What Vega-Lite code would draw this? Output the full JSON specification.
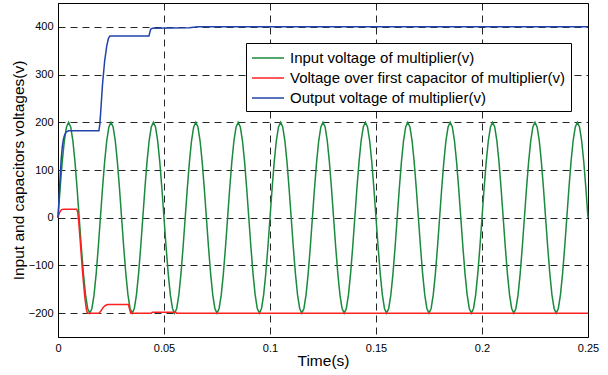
{
"$schema":"https://vega.github.io/schema/vega-lite/v6.json",
"autosize":{"type":"none"},
"width":530,"height":334,
"padding":{"left":58,"top":3,"right":20,"bottom":38},
"background":"white",
"config":{"view":{"stroke":"black","strokeWidth":1},"font":"Liberation Sans",
"axis":{"labelFont":"Liberation Sans","titleFont":"Liberation Sans","labelColor":"black","titleColor":"black","labelFontSize":11,"titleFontSize":15.5,"titleFontWeight":"normal","domainColor":"black","ticks":false,"gridColor":"black","gridDash":[7,5],"gridOpacity":0.85,"gridWidth":1}},
"datasets":{
"green":[
{"t":0,"v":0},{"t":0.001,"v":61.8},{"t":0.002,"v":117.6},{"t":0.003,"v":161.8},{"t":0.004,"v":190.2},{"t":0.005,"v":200},{"t":0.006,"v":190.2},{"t":0.007,"v":161.8},{"t":0.008,"v":117.6},{"t":0.009,"v":61.8},{"t":0.01,"v":0},{"t":0.011,"v":-61.8},{"t":0.012,"v":-117.6},{"t":0.013,"v":-161.8},{"t":0.014,"v":-190.2},{"t":0.015,"v":-200},{"t":0.016,"v":-190.2},{"t":0.017,"v":-161.8},{"t":0.018,"v":-117.6},{"t":0.019,"v":-61.8},
{"t":0.02,"v":0},{"t":0.021,"v":61.8},{"t":0.022,"v":117.6},{"t":0.023,"v":161.8},{"t":0.024,"v":190.2},{"t":0.025,"v":200},{"t":0.026,"v":190.2},{"t":0.027,"v":161.8},{"t":0.028,"v":117.6},{"t":0.029,"v":61.8},{"t":0.03,"v":0},{"t":0.031,"v":-61.8},{"t":0.032,"v":-117.6},{"t":0.033,"v":-161.8},{"t":0.034,"v":-190.2},{"t":0.035,"v":-200},{"t":0.036,"v":-190.2},{"t":0.037,"v":-161.8},{"t":0.038,"v":-117.6},{"t":0.039,"v":-61.8},
{"t":0.04,"v":0},{"t":0.041,"v":61.8},{"t":0.042,"v":117.6},{"t":0.043,"v":161.8},{"t":0.044,"v":190.2},{"t":0.045,"v":200},{"t":0.046,"v":190.2},{"t":0.047,"v":161.8},{"t":0.048,"v":117.6},{"t":0.049,"v":61.8},{"t":0.05,"v":0},{"t":0.051,"v":-61.8},{"t":0.052,"v":-117.6},{"t":0.053,"v":-161.8},{"t":0.054,"v":-190.2},{"t":0.055,"v":-200},{"t":0.056,"v":-190.2},{"t":0.057,"v":-161.8},{"t":0.058,"v":-117.6},{"t":0.059,"v":-61.8},
{"t":0.06,"v":0},{"t":0.061,"v":61.8},{"t":0.062,"v":117.6},{"t":0.063,"v":161.8},{"t":0.064,"v":190.2},{"t":0.065,"v":200},{"t":0.066,"v":190.2},{"t":0.067,"v":161.8},{"t":0.068,"v":117.6},{"t":0.069,"v":61.8},{"t":0.07,"v":0},{"t":0.071,"v":-61.8},{"t":0.072,"v":-117.6},{"t":0.073,"v":-161.8},{"t":0.074,"v":-190.2},{"t":0.075,"v":-200},{"t":0.076,"v":-190.2},{"t":0.077,"v":-161.8},{"t":0.078,"v":-117.6},{"t":0.079,"v":-61.8},
{"t":0.08,"v":0},{"t":0.081,"v":61.8},{"t":0.082,"v":117.6},{"t":0.083,"v":161.8},{"t":0.084,"v":190.2},{"t":0.085,"v":200},{"t":0.086,"v":190.2},{"t":0.087,"v":161.8},{"t":0.088,"v":117.6},{"t":0.089,"v":61.8},{"t":0.09,"v":0},{"t":0.091,"v":-61.8},{"t":0.092,"v":-117.6},{"t":0.093,"v":-161.8},{"t":0.094,"v":-190.2},{"t":0.095,"v":-200},{"t":0.096,"v":-190.2},{"t":0.097,"v":-161.8},{"t":0.098,"v":-117.6},{"t":0.099,"v":-61.8},
{"t":0.1,"v":0},{"t":0.101,"v":61.8},{"t":0.102,"v":117.6},{"t":0.103,"v":161.8},{"t":0.104,"v":190.2},{"t":0.105,"v":200},{"t":0.106,"v":190.2},{"t":0.107,"v":161.8},{"t":0.108,"v":117.6},{"t":0.109,"v":61.8},{"t":0.11,"v":0},{"t":0.111,"v":-61.8},{"t":0.112,"v":-117.6},{"t":0.113,"v":-161.8},{"t":0.114,"v":-190.2},{"t":0.115,"v":-200},{"t":0.116,"v":-190.2},{"t":0.117,"v":-161.8},{"t":0.118,"v":-117.6},{"t":0.119,"v":-61.8},
{"t":0.12,"v":0},{"t":0.121,"v":61.8},{"t":0.122,"v":117.6},{"t":0.123,"v":161.8},{"t":0.124,"v":190.2},{"t":0.125,"v":200},{"t":0.126,"v":190.2},{"t":0.127,"v":161.8},{"t":0.128,"v":117.6},{"t":0.129,"v":61.8},{"t":0.13,"v":0},{"t":0.131,"v":-61.8},{"t":0.132,"v":-117.6},{"t":0.133,"v":-161.8},{"t":0.134,"v":-190.2},{"t":0.135,"v":-200},{"t":0.136,"v":-190.2},{"t":0.137,"v":-161.8},{"t":0.138,"v":-117.6},{"t":0.139,"v":-61.8},
{"t":0.14,"v":0},{"t":0.141,"v":61.8},{"t":0.142,"v":117.6},{"t":0.143,"v":161.8},{"t":0.144,"v":190.2},{"t":0.145,"v":200},{"t":0.146,"v":190.2},{"t":0.147,"v":161.8},{"t":0.148,"v":117.6},{"t":0.149,"v":61.8},{"t":0.15,"v":0},{"t":0.151,"v":-61.8},{"t":0.152,"v":-117.6},{"t":0.153,"v":-161.8},{"t":0.154,"v":-190.2},{"t":0.155,"v":-200},{"t":0.156,"v":-190.2},{"t":0.157,"v":-161.8},{"t":0.158,"v":-117.6},{"t":0.159,"v":-61.8},
{"t":0.16,"v":0},{"t":0.161,"v":61.8},{"t":0.162,"v":117.6},{"t":0.163,"v":161.8},{"t":0.164,"v":190.2},{"t":0.165,"v":200},{"t":0.166,"v":190.2},{"t":0.167,"v":161.8},{"t":0.168,"v":117.6},{"t":0.169,"v":61.8},{"t":0.17,"v":0},{"t":0.171,"v":-61.8},{"t":0.172,"v":-117.6},{"t":0.173,"v":-161.8},{"t":0.174,"v":-190.2},{"t":0.175,"v":-200},{"t":0.176,"v":-190.2},{"t":0.177,"v":-161.8},{"t":0.178,"v":-117.6},{"t":0.179,"v":-61.8},
{"t":0.18,"v":0},{"t":0.181,"v":61.8},{"t":0.182,"v":117.6},{"t":0.183,"v":161.8},{"t":0.184,"v":190.2},{"t":0.185,"v":200},{"t":0.186,"v":190.2},{"t":0.187,"v":161.8},{"t":0.188,"v":117.6},{"t":0.189,"v":61.8},{"t":0.19,"v":0},{"t":0.191,"v":-61.8},{"t":0.192,"v":-117.6},{"t":0.193,"v":-161.8},{"t":0.194,"v":-190.2},{"t":0.195,"v":-200},{"t":0.196,"v":-190.2},{"t":0.197,"v":-161.8},{"t":0.198,"v":-117.6},{"t":0.199,"v":-61.8},
{"t":0.2,"v":0},{"t":0.201,"v":61.8},{"t":0.202,"v":117.6},{"t":0.203,"v":161.8},{"t":0.204,"v":190.2},{"t":0.205,"v":200},{"t":0.206,"v":190.2},{"t":0.207,"v":161.8},{"t":0.208,"v":117.6},{"t":0.209,"v":61.8},{"t":0.21,"v":0},{"t":0.211,"v":-61.8},{"t":0.212,"v":-117.6},{"t":0.213,"v":-161.8},{"t":0.214,"v":-190.2},{"t":0.215,"v":-200},{"t":0.216,"v":-190.2},{"t":0.217,"v":-161.8},{"t":0.218,"v":-117.6},{"t":0.219,"v":-61.8},
{"t":0.22,"v":0},{"t":0.221,"v":61.8},{"t":0.222,"v":117.6},{"t":0.223,"v":161.8},{"t":0.224,"v":190.2},{"t":0.225,"v":200},{"t":0.226,"v":190.2},{"t":0.227,"v":161.8},{"t":0.228,"v":117.6},{"t":0.229,"v":61.8},{"t":0.23,"v":0},{"t":0.231,"v":-61.8},{"t":0.232,"v":-117.6},{"t":0.233,"v":-161.8},{"t":0.234,"v":-190.2},{"t":0.235,"v":-200},{"t":0.236,"v":-190.2},{"t":0.237,"v":-161.8},{"t":0.238,"v":-117.6},{"t":0.239,"v":-61.8},
{"t":0.24,"v":0},{"t":0.241,"v":61.8},{"t":0.242,"v":117.6},{"t":0.243,"v":161.8},{"t":0.244,"v":190.2},{"t":0.245,"v":200},{"t":0.246,"v":190.2},{"t":0.247,"v":161.8},{"t":0.248,"v":117.6},{"t":0.249,"v":61.8},{"t":0.25,"v":0}
],
"red":[
{"t":0,"v":0},{"t":0.0005,"v":8},{"t":0.001,"v":13},{"t":0.0015,"v":16},{"t":0.002,"v":17.5},{"t":0.003,"v":18},{"t":0.0088,"v":18},{"t":0.0093,"v":12},{"t":0.0098,"v":-10},{"t":0.0105,"v":-50},{"t":0.0115,"v":-110},{"t":0.0125,"v":-160},{"t":0.0133,"v":-190},{"t":0.0138,"v":-199},{"t":0.0142,"v":-200},{"t":0.0193,"v":-200},{"t":0.0203,"v":-195},{"t":0.0213,"v":-188},{"t":0.0223,"v":-184},{"t":0.0235,"v":-182},{"t":0.0332,"v":-182},{"t":0.0343,"v":-200},{"t":0.044,"v":-200},{"t":0.0445,"v":-198},{"t":0.0555,"v":-198},{"t":0.056,"v":-200},{"t":0.25,"v":-200}
],
"blue":[
{"t":0,"v":0},{"t":0.0005,"v":40},{"t":0.001,"v":85},{"t":0.0015,"v":122},{"t":0.002,"v":148},{"t":0.0025,"v":163},{"t":0.003,"v":172},{"t":0.0035,"v":177},{"t":0.004,"v":180},{"t":0.005,"v":182},{"t":0.0193,"v":182},{"t":0.0197,"v":195},{"t":0.0202,"v":225},{"t":0.021,"v":280},{"t":0.022,"v":328},{"t":0.023,"v":360},{"t":0.0238,"v":376},{"t":0.0245,"v":381},{"t":0.0429,"v":381},{"t":0.0437,"v":395},{"t":0.0445,"v":397},{"t":0.062,"v":398},{"t":0.066,"v":400},{"t":0.25,"v":400}
]
},
"encoding":{
"x":{"field":"t","type":"quantitative","scale":{"domain":[0,0.25],"nice":false,"zero":false},"axis":{"title":"Time(s)","values":[0,0.05,0.1,0.15,0.2,0.25],"format":"~g","labelPadding":5,"titlePadding":0,"labelFlush":false}},
"y":{"field":"v","type":"quantitative","scale":{"domain":[-250,450],"nice":false},"axis":{"title":"Input and capacitors voltages(v)","values":[-200,-100,0,100,200,300,400],"labelPadding":5,"titlePadding":2}}
},
"layer":[
{"data":{"name":"green"},"mark":{"type":"line","strokeWidth":1.5},"encoding":{"color":{"datum":"Input voltage of multiplier(v)","type":"nominal","scale":{"domain":["Input voltage of multiplier(v)","Voltage over first capacitor of multiplier(v)","Output voltage of multiplier(v)"],"range":["#1a8a3c","#ff2020","#2244aa"]},"legend":{"title":null,"orient":"none","legendX":188,"legendY":40,"strokeColor":"black","fillColor":"white","padding":5,"symbolType":"M-1,0H2.556","symbolSize":324,"symbolStrokeWidth":1.5,"labelFont":"Liberation Sans","labelFontSize":15,"labelColor":"black","labelLimit":500,"rowPadding":2,"labelOffset":19,"cornerRadius":0}}}},
{"data":{"name":"red"},"mark":{"type":"line","strokeWidth":1.5},"encoding":{"color":{"datum":"Voltage over first capacitor of multiplier(v)","type":"nominal"}}},
{"data":{"name":"blue"},"mark":{"type":"line","strokeWidth":1.5},"encoding":{"color":{"datum":"Output voltage of multiplier(v)","type":"nominal"}}}
]
}
